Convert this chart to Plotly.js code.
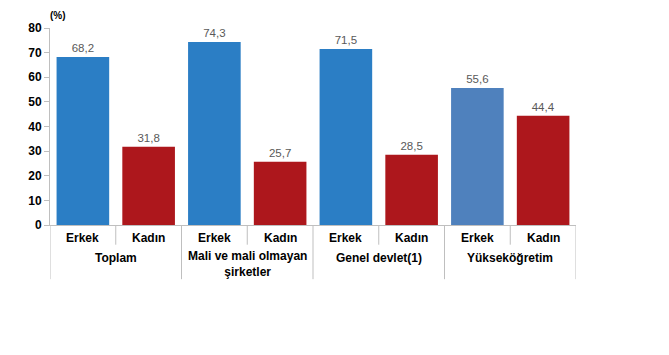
<!DOCTYPE html>
<html><head><meta charset="utf-8">
<script src="https://cdn.plot.ly/plotly-3.0.1.min.js"></script>
<style>html,body{margin:0;padding:0;background:#fff}#c{width:669px;height:355px}</style>
</head><body><div id="c"></div>
<script>
var groups = ["Toplam", "Mali ve mali olmayan<br>şirketler", "Genel devlet(1)", "Yükseköğretim"];
var subs = ["Erkek", "Kadın"];
var values = [68.2, 31.8, 74.3, 25.7, 71.5, 28.5, 55.6, 44.4];
var colors = ["#2B7EC5", "#AD171C", "#2B7EC5", "#AD171C", "#2B7EC5", "#AD171C", "#4F81BD", "#AD171C"];
var yTicks = [0, 10, 20, 30, 40, 50, 60, 70, 80];

var cats = [];
groups.forEach(function(g, gi){ subs.forEach(function(s){ cats.push(gi + "-" + s); }); });

var fontFam = "Liberation Sans, Arial, sans-serif";
var trace = {
  type: "bar", x: cats, y: values,
  marker: {color: colors},
  text: values.map(function(v){ return v.toFixed(1).replace(".", ","); }),
  textposition: "outside", cliponaxis: false,
  textfont: {family: fontFam, size: 11.5, color: "#595959"},
  hoverinfo: "none"
};

var shapes = [], annotations = [];
var lineCol = "#BFBFBF";
for (var i = 0; i <= cats.length; i++) {
  var isGroup = (i % subs.length === 0);
  shapes.push({type: "line", xref: "x", yref: "paper", x0: i - 0.5, x1: i - 0.5,
    y0: 0, y1: isGroup ? -0.275 : -0.1, line: {color: lineCol, width: 1}});
}
cats.forEach(function(c, i){
  annotations.push({xref: "x", yref: "paper", x: i, y: -0.066, text: "<b>" + subs[i % subs.length] + "</b>",
    showarrow: false, yanchor: "middle", font: {family: fontFam, size: 12, color: "#000"}});
});
groups.forEach(function(g, gi){
  var two = g.indexOf("<br>") >= 0;
  annotations.push({xref: "x", yref: "paper", x: gi * subs.length + (subs.length - 1) / 2,
    y: two ? -0.2 : -0.168, text: "<b>" + g + "</b>", showarrow: false, yanchor: "middle",
    font: {family: fontFam, size: 12, color: "#000"}});
});
annotations.push({xref: "paper", yref: "paper", x: -0.004, y: 1.025, text: "<b>(%)</b>",
  showarrow: false, xanchor: "left", yanchor: "bottom", font: {family: fontFam, size: 10, color: "#000"}});

var layout = {
  width: 669, height: 355,
  margin: {l: 50, r: 93, t: 28, b: 130},
  paper_bgcolor: "#fff", plot_bgcolor: "#fff",
  bargap: 0.2, showlegend: false,
  xaxis: {type: "category", showticklabels: false, showline: true, linecolor: lineCol,
    linewidth: 1, ticks: "", showgrid: false, zeroline: false, range: [-0.5, cats.length - 0.5], fixedrange: true},
  yaxis: {range: [0, 80], tickvals: yTicks, ticktext: yTicks.map(function(t){ return "<b>" + t + "</b>"; }),
    showline: true, linecolor: lineCol, linewidth: 1, ticks: "outside", ticklen: 5, tickcolor: lineCol,
    showgrid: false, zeroline: false, tickfont: {family: fontFam, size: 12, color: "#000"}, fixedrange: true},
  shapes: shapes, annotations: annotations
};
Plotly.newPlot("c", [trace], layout, {displayModeBar: false, staticPlot: true});
</script></body></html>
